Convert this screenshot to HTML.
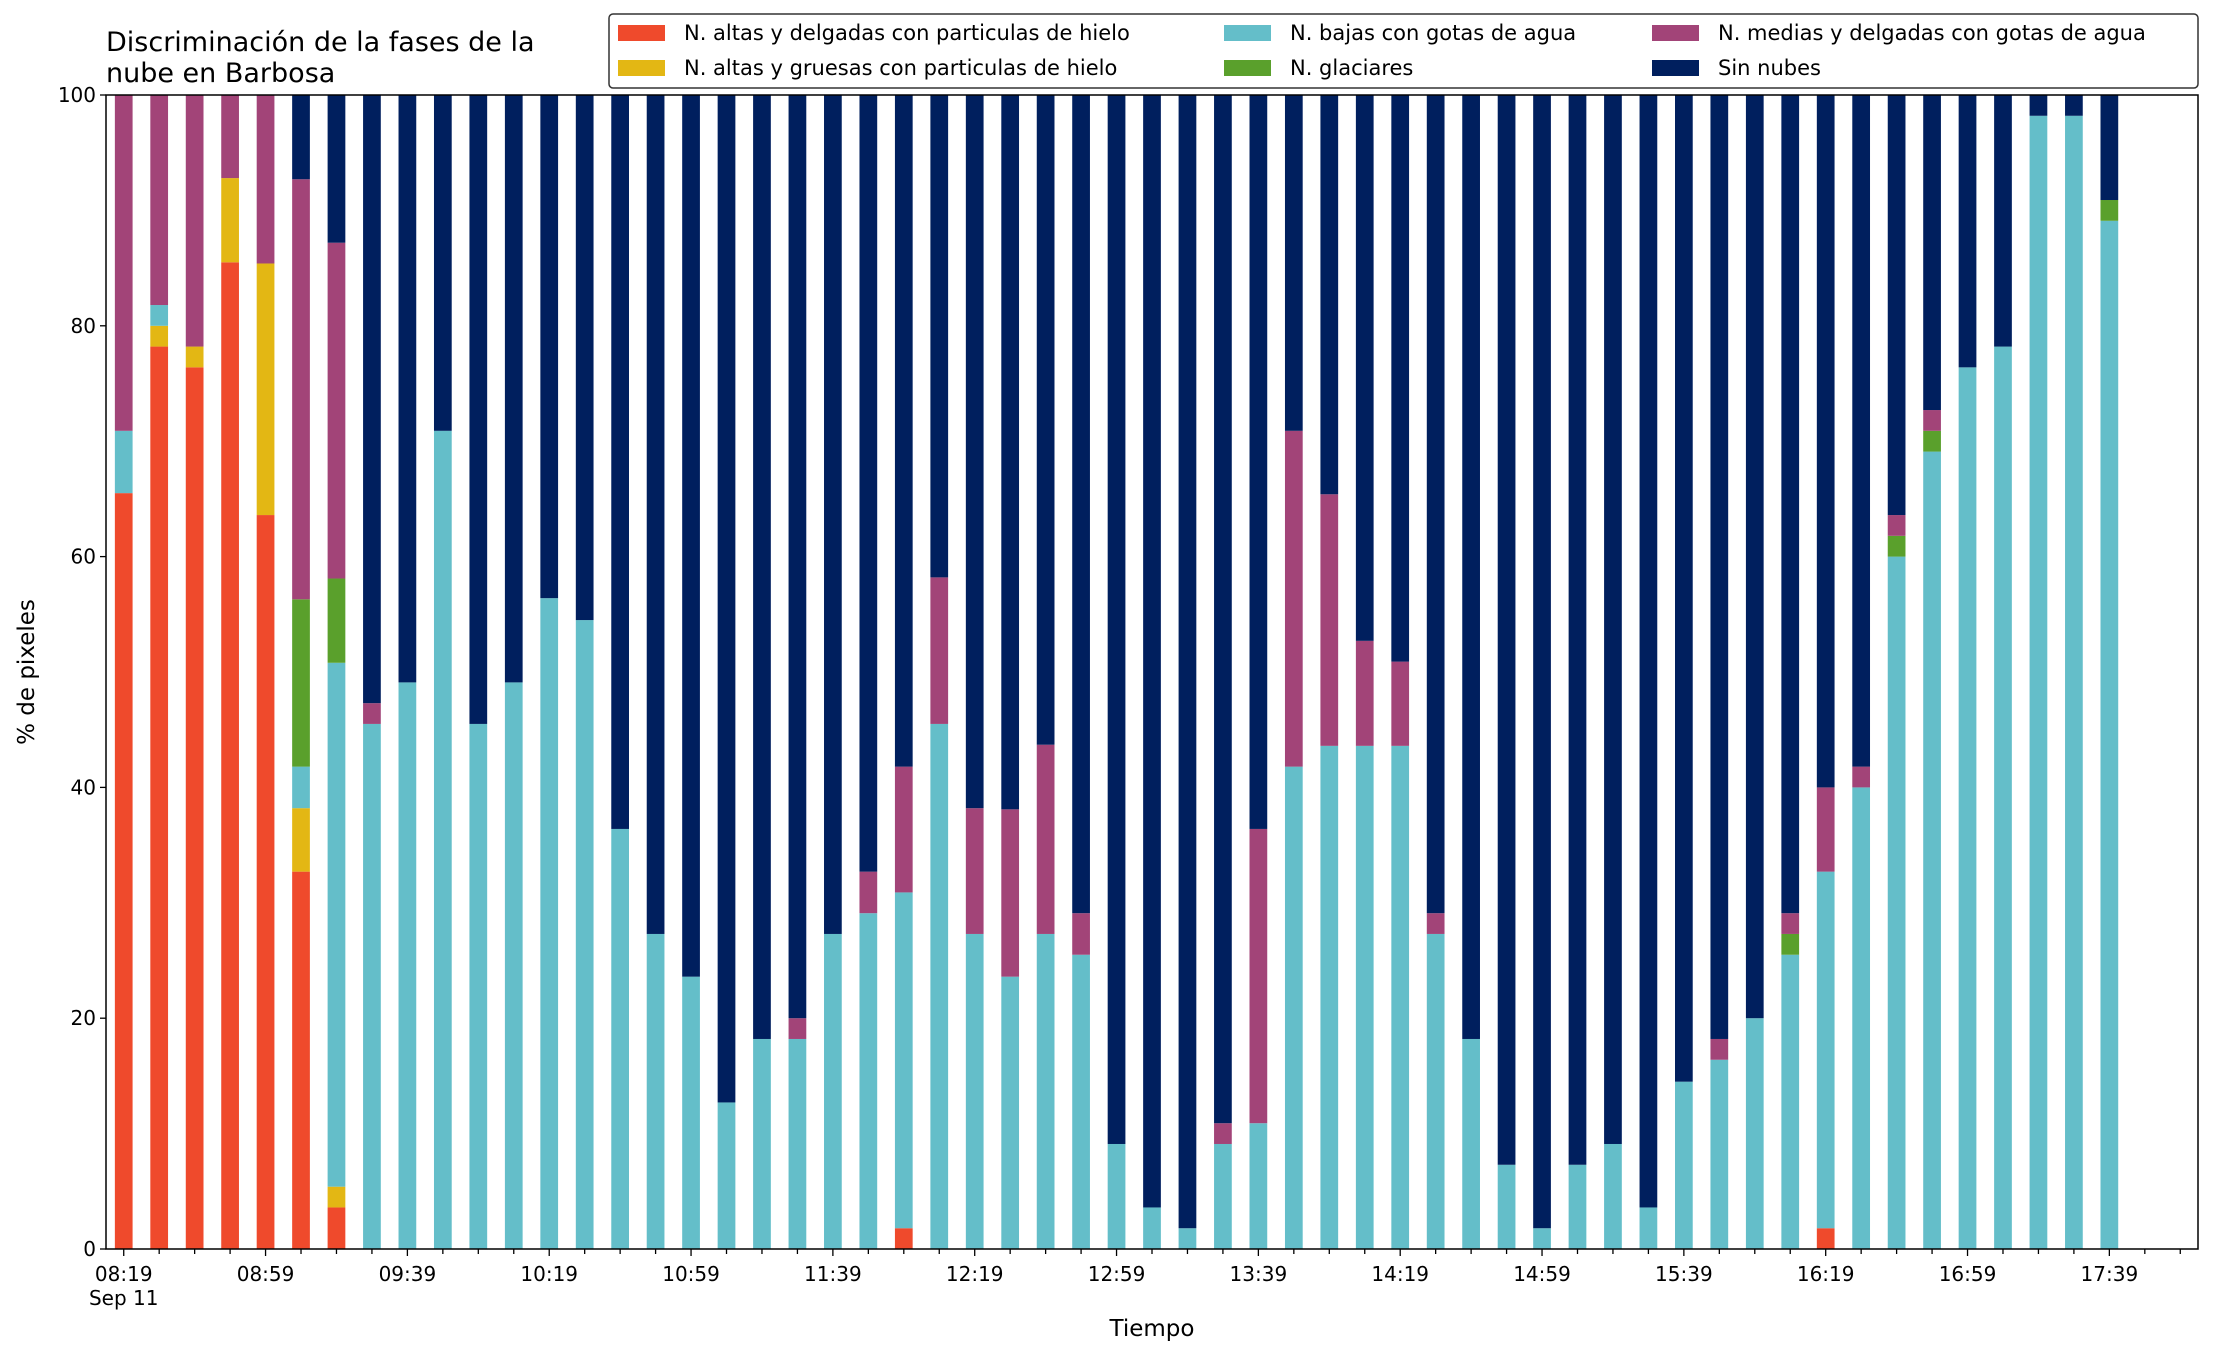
<!DOCTYPE html>
<html><head><meta charset="utf-8"><style>
html,body{margin:0;padding:0;background:#fff;}
svg{display:block;font-family:"DejaVu Sans","Liberation Sans",sans-serif;}
</style></head><body>
<svg id="chart" width="2216" height="1355" viewBox="0 0 2216 1355" xmlns="http://www.w3.org/2000/svg">
<text x="106" y="51" font-size="27" fill="#000">Discriminación de la fases de la</text>
<text x="106" y="82" font-size="27" fill="#000">nube en Barbosa</text>
<g id="bars"></g>
<g id="axes"></g>
<text transform="translate(34,672) rotate(-90)" text-anchor="middle" font-size="23">% de pixeles</text>
<text x="1152" y="1336" text-anchor="middle" font-size="23">Tiempo</text>
<g id="legend"></g>
</svg>
<script>
const categories = ["08:19","08:29","08:39","08:49","08:59","09:09","09:19","09:29","09:39","09:49","09:59","10:09","10:19","10:29","10:39","10:49","10:59","11:09","11:19","11:29","11:39","11:49","11:59","12:09","12:19","12:29","12:39","12:49","12:59","13:09","13:19","13:29","13:39","13:49","13:59","14:09","14:19","14:29","14:39","14:49","14:59","15:09","15:19","15:29","15:39","15:49","15:59","16:09","16:19","16:29","16:39","16:49","16:59","17:09","17:19","17:29","17:39"];
const seriesNames = ["N. altas y delgadas con particulas de hielo","N. altas y gruesas con particulas de hielo","N. bajas con gotas de agua","N. glaciares","N. medias y delgadas con gotas de agua","Sin nubes"];
const seriesColors = ["#ef4a2c","#e3b714","#64bec9","#5aa02c","#a24478","#001f5e"];
const altasDelgadas = [65.5,78.2,76.4,85.5,63.6,32.7,3.6,0,0,0,0,0,0,0,0,0,0,0,0,0,0,0,1.8,0,0,0,0,0,0,0,0,0,0,0,0,0,0,0,0,0,0,0,0,0,0,0,0,0,1.8,0,0,0,0,0,0,0,0];
const altasGruesas = [0,1.8,1.8,7.3,21.8,5.5,1.8,0,0,0,0,0,0,0,0,0,0,0,0,0,0,0,0,0,0,0,0,0,0,0,0,0,0,0,0,0,0,0,0,0,0,0,0,0,0,0,0,0,0,0,0,0,0,0,0,0,0];
const bajas = [5.4,1.8,0,0,0,3.6,45.4,45.5,49.1,70.9,45.5,49.1,56.4,54.5,36.4,27.3,23.6,12.7,18.2,18.2,27.3,29.1,29.1,45.5,27.3,23.6,27.3,25.5,9.1,3.6,1.8,9.1,10.9,41.8,43.6,43.6,43.6,27.3,18.2,7.3,1.8,7.3,9.1,3.6,14.5,16.4,20,25.5,30.9,40,60,69.1,76.4,78.2,98.2,98.2,89.1];
const glaciares = [0,0,0,0,0,14.5,7.3,0,0,0,0,0,0,0,0,0,0,0,0,0,0,0,0,0,0,0,0,0,0,0,0,0,0,0,0,0,0,0,0,0,0,0,0,0,0,0,0,1.8,0,0,1.8,1.8,0,0,0,0,1.8];
const medias = [29.1,18.2,21.8,7.2,14.6,36.4,29.1,1.8,0,0,0,0,0,0,0,0,0,0,0,1.8,0,3.6,10.9,12.7,10.9,14.5,16.4,3.6,0,0,0,1.8,25.5,29.1,21.8,9.1,7.3,1.8,0,0,0,0,0,0,0,1.8,0,1.8,7.3,1.8,1.8,1.8,0,0,0,0,0];
const yTicks = [0,20,40,60,80,100];
const xTickLabels = ["08:19","08:59","09:39","10:19","10:59","11:39","12:19","12:59","13:39","14:19","14:59","15:39","16:19","16:59","17:39"];

const NS="http://www.w3.org/2000/svg";
const L=106,R=2198,T=95,B=1249;
const xMin=-0.5,xMax=58.5;
function xs(i){return L+(i-xMin)/(xMax-xMin)*(R-L);}
function ys(v){return B-v/100*(B-T);}
function mk(tag,attrs,parent){const e=document.createElementNS(NS,tag);for(const k in attrs)e.setAttribute(k,attrs[k]);parent.appendChild(e);return e;}
const barsG=document.getElementById('bars');
const bw=(xs(1)-xs(0))*0.5;
categories.forEach((c,i)=>{
  const vals=[altasDelgadas[i],altasGruesas[i],bajas[i],glaciares[i],medias[i]];
  const s=vals.reduce((a,b)=>a+b,0);
  vals.push(Math.max(0,100-s));
  let acc=0;
  vals.forEach((v,k)=>{
    if(v<=0)return;
    const r=mk('rect',{x:xs(i)-bw/2,y:ys(acc+v),width:bw,height:ys(acc)-ys(acc+v),fill:seriesColors[k]},barsG);
    
    
    acc+=v;
  });
});
const ax=document.getElementById('axes');
const frame=mk('rect',{x:L,y:T,width:R-L,height:B-T,fill:'none',stroke:'#000','stroke-width':1.5},ax);


yTicks.forEach(t=>{
  const ln=mk('line',{x1:L-6,x2:L,y1:ys(t),y2:ys(t),stroke:'#000','stroke-width':1.3},ax);
  
  
  const tx=mk('text',{x:L-10,y:ys(t)+7,'text-anchor':'end','font-size':20},ax);
  
  
  tx.textContent=t;
});
for(let i=0;i<=58;i++){
  const major=i%4===0;
  const ln=mk('line',{x1:xs(i),x2:xs(i),y1:B,y2:B+(major?7:5),stroke:'#000','stroke-width':1.3},ax);
  
  
}
xTickLabels.forEach((lab,j)=>{
  const tx=mk('text',{x:xs(j*4),y:1281,'text-anchor':'middle','font-size':20},ax);
  
  
  tx.textContent=lab;
});
const sep=mk('text',{x:xs(0),y:1305,'text-anchor':'middle','font-size':20},ax);


sep.textContent='Sep 11';
const lg=document.getElementById('legend');
const box=mk('rect',{x:609,y:14,width:1589,height:74,rx:4,fill:'#fff',stroke:'#333','stroke-width':1.5},lg);


const colX=[618,1224,1652];
seriesNames.forEach((n,k)=>{
  const col=Math.floor(k/2),row=k%2;
  const px=colX[col],py=row?60:25;
  const r=mk('rect',{x:px,y:py,width:47,height:16,fill:seriesColors[k]},lg);
  
  
  const t=mk('text',{x:px+66,y:py+15,'font-size':21},lg);
  
  
  t.textContent=n;
});
</script>
</body></html>
